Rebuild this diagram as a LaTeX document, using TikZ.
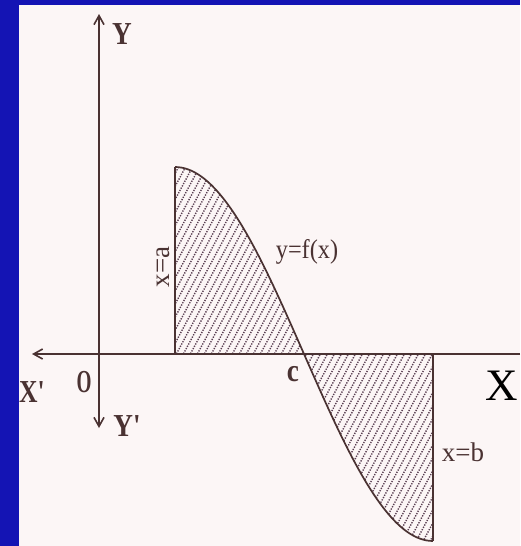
\documentclass[tikz,border=0pt]{standalone}
\usepackage{fontspec}
\setmainfont{Liberation Serif}
\usetikzlibrary{arrows.meta}
\definecolor{bgblue}{HTML}{1414B4}
\definecolor{paper}{HTML}{FCF6F6}
\definecolor{ink}{HTML}{4A3232}
\definecolor{hatch}{HTML}{5A3F52}
\tikzset{
  axis/.style={draw=ink, line width=2.2pt, -{Straight Barb[length=9pt,width=10pt,line width=1.6pt]}},
  curveline/.style={draw=ink, line width=1.7pt},
  bound/.style={draw=ink, line width=1.7pt},
  hatchline/.style={draw=hatch, line width=1.4pt, dash pattern=on 1.3pt off 1.3pt},
  blab/.style={text=ink, font=\fontsize{32}{32}\selectfont\bfseries, inner sep=0pt},
  rlab/.style={text=ink, font=\fontsize{27}{27}\selectfont, inner sep=0pt},
}
\begin{document}
\begin{tikzpicture}[x=1pt,y=-1pt]
\useasboundingbox (0,0) rectangle (520,546);
\fill[bgblue] (0,0) rectangle (520,546);
\fill[paper] (19,5) rectangle (520,546);
% coordinates
\coordinate (O) at (99,354);
\coordinate (ytop) at (99,14);
\coordinate (ybot) at (99,428);
\coordinate (xleft) at (32,354);
\coordinate (xright) at (520,354);
\coordinate (A) at (175,354);
\coordinate (Atop) at (175,167);
\coordinate (C) at (303,354);
\coordinate (B) at (433,354);
\coordinate (Bbot) at (433,541);
% hatching
\begin{scope}
  \clip (A) -- (Atop) -- plot[domain=0:0.5,samples=40] ({175+258*\x},{354-187*cos(180*\x)}) -- cycle;
  \foreach \i in {-200,-193,...,460} {\draw[hatchline] (\i,560) -- (\i+300,0);}
\end{scope}
\begin{scope}
  \clip (C) -- plot[domain=0.5:1,samples=40] ({175+258*\x},{354-187*cos(180*\x)}) -- (B) -- cycle;
  \foreach \i in {0,7,...,560} {\draw[hatchline] (\i,560) -- (\i+300,0);}
\end{scope}
% axes
\draw[axis] (O) -- (ytop);
\draw[axis] (O) -- (ybot);
\draw[axis] (xright) -- (xleft);
% boundaries and curve
\draw[bound] (A) -- (Atop);
\draw[bound] (B) -- (Bbot);
\draw[curveline] plot[domain=0:1,samples=80] ({175+258*\x},{354-187*cos(180*\x)});
% labels
\node[blab] (lY) at (122,34) {\scalebox{0.85}[1]{Y}};
\node[blab] (lYp) at (127,426) {\scalebox{0.85}[1]{Y\textquotesingle}};
\node[blab] (lXp) at (32,392) {\scalebox{0.8}[1]{X\textquotesingle}};
\node[blab] (lO) at (84,382) {\scalebox{0.6}[1]{O}};
\node[blab] (lc) at (293,374) {\scalebox{0.85}[1]{c}};
\node[text=black, font=\fontsize{45}{45}\selectfont, inner sep=0pt] (lX) at (502,386) {X};
\node[rlab, rotate=90] (la) at (163,267) {x=a};
\node[rlab] (lf) at (307,252) {\scalebox{0.9}[1]{y=f(x)}};
\node[rlab] (lb) at (463,452) {x=b};
\end{tikzpicture}
\end{document}
